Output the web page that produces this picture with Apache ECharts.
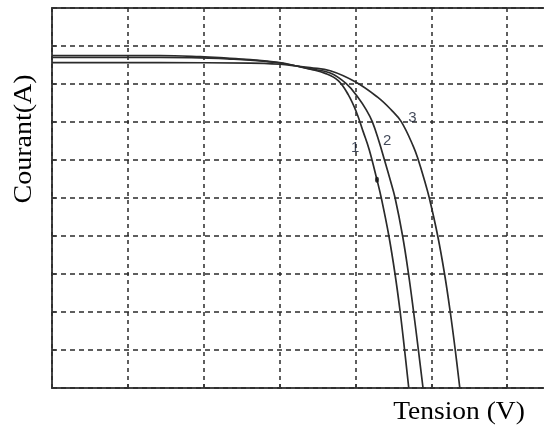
<!DOCTYPE html>
<html>
<head>
<meta charset="utf-8">
<script src="https://cdn.jsdelivr.net/npm/echarts@6/dist/echarts.min.js"></script>
<style>
html,body{margin:0;padding:0;background:#fff;overflow:hidden;width:544px;height:428px;}
#chart{width:583px;height:428px;}
</style>
</head>
<body>
<div id="chart"></div>
<script>
// Curve 1 (inner), as [tension, courant] in axis units
var curve1 = [[0,8.75],[1.425,8.75],[1.953,8.72],[2.309,8.68],[2.612,8.64],[2.836,8.60],[3.048,8.55],[3.206,8.48],[3.404,8.39],[3.602,8.28],[3.773,8.09],[3.905,7.72],[4.011,7.27],[4.103,6.74],[4.182,6.27],[4.284,5.48],[4.341,5.00],[4.441,4.00],[4.522,3.00],[4.590,2.00],[4.648,1.00],[4.703,0]];
// Curve 2 (middle)
var curve2 = [[0,8.70],[1.425,8.70],[1.953,8.69],[2.309,8.66],[2.612,8.63],[2.836,8.59],[3.048,8.54],[3.206,8.48],[3.404,8.40],[3.668,8.29],[3.879,8.01],[4.037,7.64],[4.143,7.32],[4.222,7.01],[4.312,6.48],[4.383,6.00],[4.458,5.48],[4.523,5.00],[4.622,4.00],[4.700,3.00],[4.767,2.00],[4.830,1.00],[4.891,0]];
// Curve 3 (outer)
var curve3 = [[0,8.56],[1.425,8.56],[2.612,8.55],[3.008,8.52],[3.206,8.48],[3.404,8.43],[3.668,8.35],[3.997,8.06],[4.288,7.66],[4.472,7.32],[4.604,7.01],[4.763,6.36],[4.829,6.00],[4.908,5.48],[4.974,5.00],[5.085,4.00],[5.175,3.00],[5.250,2.00],[5.316,1.00],[5.376,0]];
// Curve labels and their positions
var curveLabels = ['1','2','3'];
var labelPos = [[3.997,6.32],[4.42,6.50],[4.75,7.11]];
// Marked point on curve 1
var markedPoint = [[4.284,5.48]];
var xTitle = 'Tension (V)';
var yTitle = 'Courant(A)';

var chart = echarts.init(document.getElementById('chart'), null, {renderer:'canvas'});
function lineSeries(d){
  return {type:'line', data:d, showSymbol:false, smooth:0.4,
    lineStyle:{color:'#2b2b2b', width:1.7}, z:3, silent:true};
}
chart.setOption({
  animation:false,
  backgroundColor:'#fff',
  grid:{left:52, top:8, right:0, bottom:40, show:true, borderColor:'#444', borderWidth:2, backgroundColor:'transparent'},
  xAxis:{type:'value', min:0, max:7, interval:1,
    axisLine:{show:false}, axisLabel:{show:false},
    axisTick:{show:true, inside:true, length:4, lineStyle:{color:'#333', width:1.5}},
    splitLine:{show:true, lineStyle:{color:'#2a2a2a', width:1.5, type:[4,4]}}},
  yAxis:{type:'value', min:0, max:10, interval:1,
    axisLine:{show:false}, axisLabel:{show:false},
    axisTick:{show:true, inside:true, length:4, lineStyle:{color:'#333', width:1.5}},
    splitLine:{show:true, lineStyle:{color:'#2a2a2a', width:1.5, type:[5,4]}}},
  series:[
    lineSeries(curve1), lineSeries(curve2), lineSeries(curve3),
    {type:'scatter', data:labelPos.map(function(p,i){return {value:p, name:curveLabels[i]};}),
      symbolSize:0, z:5,
      label:{show:true, position:'inside', formatter:function(p){return p.name;}, color:'#111a2e', fontSize:15, fontFamily:'Liberation Sans'}},
    {type:'scatter', data:markedPoint, symbol:'circle', symbolSize:[4,6], itemStyle:{color:'#111'}, z:6}
  ],
  graphic:[
    {type:'text', x:24, y:139, rotation:Math.PI/2, scaleX:1.12,
      style:{text:yTitle, font:'25px "Liberation Serif"', fill:'#000', textAlign:'center', textVerticalAlign:'middle'}},
    {type:'text', x:459, y:412, scaleX:1.1,
      style:{text:xTitle, font:'25px "Liberation Serif"', fill:'#000', textAlign:'center', textVerticalAlign:'middle'}}
  ]
});
</script>
</body>
</html>
